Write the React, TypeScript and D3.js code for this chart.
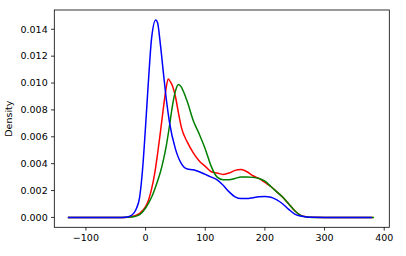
import React from "react";
import * as d3 from "d3";

const xRed = [-129, -60, -40, -30, -20, -10, 0, 5, 10, 15, 20, 25, 30, 34, 38, 40, 45, 50, 55, 60, 70, 80, 90, 100, 110, 120, 130, 140, 150, 160, 170, 180, 190, 200, 210, 220, 230, 240, 250, 260, 270, 280, 300, 340, 380];
const redValues = [0, 0, 0, 0.00002, 0.0001, 0.0003, 0.0008, 0.0013, 0.0021, 0.0032, 0.0047, 0.0064, 0.0082, 0.0095, 0.0103, 0.0102, 0.0098, 0.009, 0.0078, 0.0067, 0.0056, 0.0048, 0.0042, 0.0038, 0.0034, 0.0033, 0.0032, 0.0033, 0.0035, 0.00356, 0.0034, 0.0031, 0.0029, 0.0026, 0.0023, 0.0019, 0.0015, 0.001, 0.0005, 0.00015, 0.00004, 0.00001, 0, 0, 0];

const xGreen = [-129, -60, -40, -30, -20, -10, 0, 10, 20, 25, 30, 35, 40, 45, 50, 55, 60, 65, 70, 80, 90, 100, 110, 120, 130, 140, 150, 160, 170, 180, 190, 200, 210, 220, 230, 240, 250, 260, 270, 280, 300, 340, 381.7];
const greenValues = [0, 0, 0, 0.00002, 0.00005, 0.0002, 0.0007, 0.0015, 0.0027, 0.0034, 0.0043, 0.0054, 0.0068, 0.0083, 0.0094, 0.0099, 0.0097, 0.0092, 0.0086, 0.0072, 0.0062, 0.0051, 0.0038, 0.003, 0.0028, 0.0028, 0.0029, 0.003, 0.003, 0.00298, 0.0029, 0.0027, 0.0023, 0.0019, 0.0015, 0.001, 0.0005, 0.00015, 0.00003, 0, 0, 0, 0];

const xBlue = [-129, -60, -40, -30, -20, -15, -10, -5, 0, 5, 10, 17, 20, 25, 30, 35, 40, 50, 60, 70, 80, 90, 100, 110, 120, 130, 140, 150, 160, 170, 180, 190, 200, 210, 220, 230, 240, 250, 260, 270, 280, 300, 340, 378];
const blueValues = [0, 0, 0, 0.00003, 0.0003, 0.0007, 0.0015, 0.0036, 0.0068, 0.0103, 0.0133, 0.0147, 0.0145, 0.0128, 0.0107, 0.0087, 0.0071, 0.0051, 0.004, 0.0036, 0.00355, 0.0034, 0.0032, 0.003, 0.0028, 0.0024, 0.0019, 0.00153, 0.0014, 0.0014, 0.00147, 0.00153, 0.00155, 0.0015, 0.0013, 0.001, 0.0006, 0.00025, 0.0001, 0.00003, 0.00001, 0, 0, 0];

const xTicks = [-100, 0, 100, 200, 300, 400];
const yTicks = [0, 0.002, 0.004, 0.006, 0.008, 0.01, 0.012, 0.014];

const W = 406;
const H = 256;
const left = 54.3;
const right = 389.3;
const top = 10;
const bottom = 227.3;
const FONT = "DejaVu Sans, sans-serif";
const FS = 9.5;

export default function App() {
  const x = d3.scaleLinear().domain([-153, 408.5]).range([left, right]);
  const yMax = 0.0147;
  const y = d3.scaleLinear().domain([-yMax * 0.05, yMax * 1.05]).range([bottom, top]);

  const series = [
    { xs: xRed, ys: redValues, color: "#ff0000" },
    { xs: xGreen, ys: greenValues, color: "#008000" },
    { xs: xBlue, ys: blueValues, color: "#0000ff" },
  ];

  const line = d3
    .line<[number, number]>()
    .x((d) => x(d[0]))
    .y((d) => y(d[1]))
    .curve(d3.curveMonotoneX);

  const fmtY = (v: number) => v.toFixed(3);
  const fmtX = (v: number) => (v < 0 ? "\u2212" + Math.abs(v) : String(v));

  return (
    <>
      <style>{`body{margin:0}`}</style>
      <svg width={W} height={H} style={{ display: "block", background: "#fff" }}>
        <rect x={0} y={0} width={W} height={H} fill="#fff" />
        <defs>
          <clipPath id="plotclip">
            <rect x={left} y={top} width={right - left} height={bottom - top} />
          </clipPath>
        </defs>
        <g clipPath="url(#plotclip)">
          {series.map((s, i) => (
            <path
              key={i}
              d={line(s.xs.map((v, j) => [v, s.ys[j]] as [number, number])) || ""}
              fill="none"
              stroke={s.color}
              strokeWidth={1.5}
              strokeLinejoin="round"
              strokeLinecap="square"
            />
          ))}
        </g>
        <rect
          x={left}
          y={top}
          width={right - left}
          height={bottom - top}
          fill="none"
          stroke="#000"
          strokeWidth={0.8}
        />
        {xTicks.map((t) => (
          <g key={"x" + t}>
            <line x1={x(t)} x2={x(t)} y1={bottom} y2={bottom + 3.3} stroke="#000" strokeWidth={0.8} />
            <text
              x={x(t)}
              y={bottom + 6.6 + FS * 0.76}
              textAnchor="middle"
              fontFamily={FONT}
              fontSize={FS}
              fill="#000"
            >
              {fmtX(t)}
            </text>
          </g>
        ))}
        {yTicks.map((t) => (
          <g key={"y" + t}>
            <line x1={left - 3.3} x2={left} y1={y(t)} y2={y(t)} stroke="#000" strokeWidth={0.8} />
            <text
              x={left - 6.6}
              y={y(t)}
              dy="0.35em"
              textAnchor="end"
              fontFamily={FONT}
              fontSize={FS}
              fill="#000"
            >
              {fmtY(t)}
            </text>
          </g>
        ))}
        <text
          transform={`translate(9,${(top + bottom) / 2}) rotate(-90)`}
          textAnchor="middle"
          dy="0.35em"
          fontFamily={FONT}
          fontSize={FS}
          fill="#000"
        >
          Density
        </text>
      </svg>
    </>
  );
}
